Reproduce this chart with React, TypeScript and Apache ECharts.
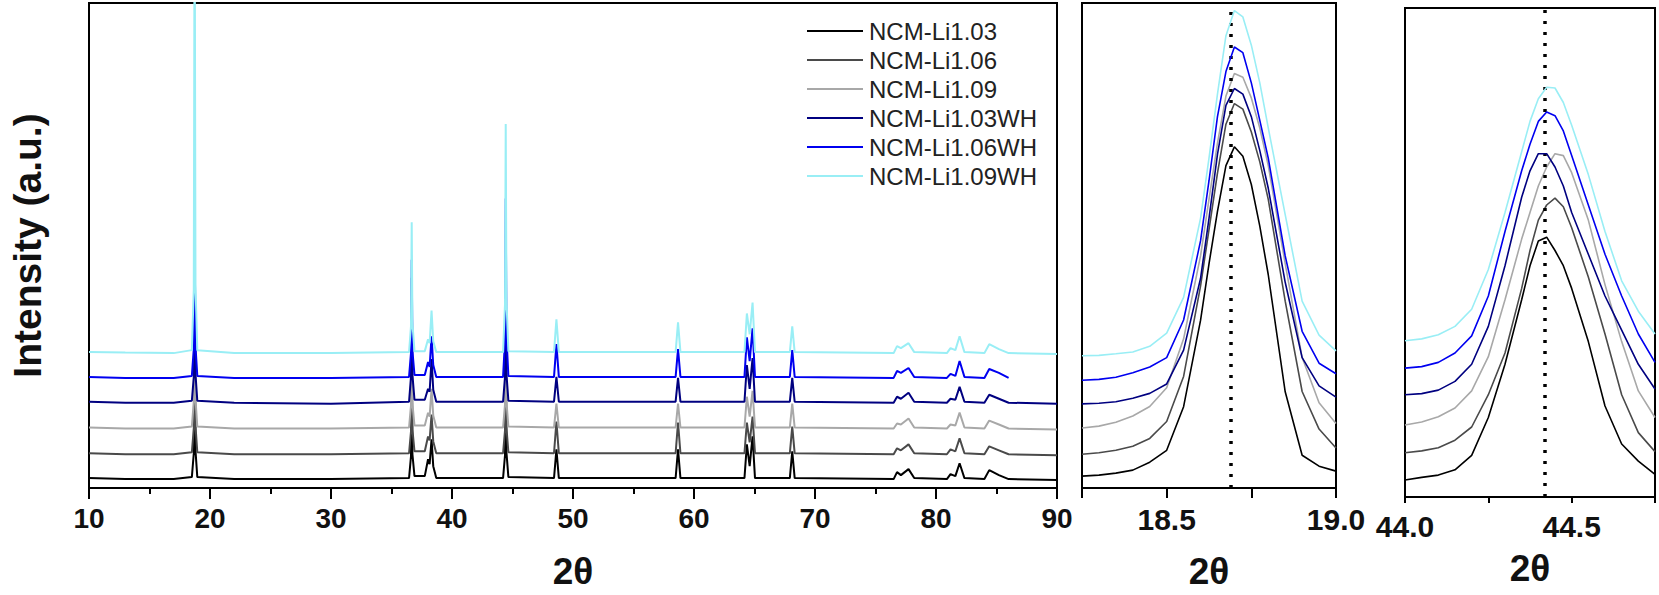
import React, { useEffect, useRef } from "react";
import * as echarts from "echarts";

// ---------- data ----------
const seriesNames = [
  "NCM-Li1.03",
  "NCM-Li1.06",
  "NCM-Li1.09",
  "NCM-Li1.03WH",
  "NCM-Li1.06WH",
  "NCM-Li1.09WH",
];
const seriesColors = ["#000000", "#4a4a4a", "#a8a8a8", "#000080", "#0000f0", "#99eef5"];

// Main panel: full pattern (offset-stacked, a.u.)
const mainTwoTheta = [
  10, 13, 17, 18.5, 18.66, 18.73, 18.8, 18.95, 22, 30,
  36.45, 36.61, 36.67, 36.73, 36.9, 37.75, 38.02, 38.15, 38.31, 38.45,
  38.7, 44.22, 44.38, 44.44, 44.5, 44.66, 48.43, 48.63, 48.83, 58.48,
  58.68, 58.88, 64.17, 64.37, 64.6, 64.84, 65.04, 67.92, 68.12, 68.32,
  76.5, 76.78, 77.1, 77.73, 78.2, 80.9, 81.2, 81.6, 81.95, 82.35,
  84.0, 84.4, 85.2, 86.0, 90,
];
const mainLi103 = [
  10, 9, 9, 11, 35, 139, 38, 11, 9, 9,
  10, 32, 124, 34, 12, 12, 29, 24, 49, 22,
  10, 10, 33, 129, 36, 11, 10, 39, 10, 10,
  39, 10, 10, 44, 22, 52, 10, 10, 37, 10,
  9, 16, 13, 19, 10, 9, 14, 12, 25, 10,
  9, 18, 13, 9, 8,
];
const mainLi106 = [
  35, 34, 34, 36, 60, 164, 63, 36, 34, 34,
  35, 57, 149, 59, 37, 37, 52, 48, 74, 47,
  35, 35, 58, 154, 61, 36, 35, 67, 35, 35,
  66, 35, 35, 66, 46, 72, 35, 35, 62, 35,
  34, 40, 38, 44, 35, 34, 39, 37, 50, 35,
  34, 42, 38, 34, 33,
];
const mainLi109 = [
  61, 60, 60, 62, 87, 195, 90, 62, 60, 60,
  61, 83, 175, 85, 63, 63, 76, 72, 100, 73,
  61, 61, 84, 180, 87, 62, 61, 85, 61, 61,
  85, 61, 61, 92, 72, 98, 61, 61, 85, 61,
  60, 65, 64, 70, 61, 60, 64, 63, 76, 61,
  60, 68, 64, 60, 59,
];
const mainLi103WH = [
  87, 86, 86, 88, 112, 211, 115, 88, 86, 85,
  87, 112, 212, 114, 89, 89, 100, 97, 130, 99,
  87, 87, 112, 209, 115, 88, 87, 112, 87, 87,
  111, 87, 87, 124, 100, 131, 87, 87, 111, 87,
  86, 92, 90, 96, 87, 86, 90, 89, 102, 87,
  86, 94, 90, 86, 85,
];
const mainLi106WH = [
  112, 111, 111, 113, 140, 256, 143, 113, 111, 111,
  112, 136, 230, 138, 114, 114, 127, 122, 153, 124,
  112, 112, 149, 292, 153, 113, 112, 145, 112, 112,
  140, 112, 112, 152, 128, 161, 112, 112, 139, 112,
  111, 118, 116, 121, 112, 111, 115, 113, 128, 112,
  111, 120, 116, 111, null,
];
const mainLi109WH = [
  137, 136.5, 136, 139, 200, 620, 205, 139, 136, 136,
  137, 163, 268, 166, 138, 138, 150, 146, 179, 148,
  137, 137, 185, 367, 190, 138, 137, 170, 137, 137,
  167, 137, 137, 176, 155, 187, 137, 137, 163, 137,
  136, 143, 141, 146, 137, 136, 141, 139, 153, 137,
  136, 145, 140, 136, 135,
];

// Inset 1: (003) peak
const inset003TwoTheta = [
  18.25, 18.3, 18.35, 18.4, 18.45, 18.5, 18.55, 18.6, 18.625, 18.65,
  18.675, 18.7, 18.725, 18.75, 18.775, 18.8, 18.85, 18.9, 18.95, 19.0,
];
const inset003Li103 = [12, 13, 15, 18, 26, 38, 82, 169, 226, 279, 325, 344, 334.5, 306, 264, 215, 97, 33, 22, 17];
const inset003Li106 = [34, 35.5, 38, 42, 50, 67, 112.5, 203.6, 260.5, 317.4, 366.8, 387.6, 382, 359, 328.8, 291, 188.4, 97.3, 59.4, 40.4];
const inset003Li109 = [60.5, 62.4, 66.2, 72.6, 82.1, 101, 150.4, 234, 290.9, 347.8, 395.2, 418, 414.2, 393.3, 363, 325, 226.3, 131.5, 85.9, 65];
const inset003Li103WH = [84.8, 85.5, 87, 90.5, 95.4, 104.9, 139, 211.2, 271.9, 336.4, 385.7, 402.8, 397.1, 374.4, 340.2, 302.2, 207.4, 131.5, 103, 91.6];
const inset003Li106WH = [108.7, 109.5, 111.7, 116.3, 122, 131.5, 169.4, 249.1, 309.8, 374.4, 419.9, 444.6, 438.9, 408.5, 370.6, 332.6, 234, 158, 125.8, 115.2];
const inset003Li109WH = [133.4, 133.7, 135.3, 137.2, 142.9, 156.1, 192.2, 271.9, 332.6, 397.1, 456, 481.4, 474.9, 446.5, 408.5, 363, 275.7, 188.4, 154.2, 138.3];
const inset003Reference = 18.69;
const inset003Labels = ["18.5", "19.0"];

// Inset 2: (104) peak
const inset104TwoTheta = [
  44.0, 44.05, 44.1, 44.15, 44.2, 44.25, 44.3, 44.35, 44.375, 44.4,
  44.425, 44.45, 44.475, 44.5, 44.55, 44.6, 44.65, 44.7, 44.75,
];
const inset104Li103 = [17, 19.6, 21.9, 27.2, 41.6, 79.5, 132.7, 197.2, 231.3, 256, 259.8, 246.5, 231.3, 208.6, 155.4, 91, 53, 35.9, 22.6];
const inset104Li106 = [44.2, 46.1, 49.2, 56.8, 70, 102.3, 144, 208.6, 246.5, 276.9, 292, 298.9, 290.2, 269.3, 220, 163, 102.3, 64.4, 45.4];
const inset104Li109 = [72, 75, 80.3, 89, 106.1, 140.3, 197.2, 257.9, 284.5, 311, 330, 343.3, 341.4, 324.3, 276.9, 212.4, 155.4, 106.1, 79.5];
const inset104Li103WH = [102.3, 103.4, 106.9, 115.6, 132.7, 170.6, 231.3, 299.7, 326.2, 343.3, 343.3, 330, 311, 284.5, 242.7, 201, 166.8, 132.7, 108];
const inset104Li106WH = [128.9, 130.4, 134.6, 144, 161.1, 201, 265.5, 326.2, 352.8, 375.6, 385, 381.3, 366.1, 341.4, 292, 242.7, 201, 163, 134.6];
const inset104Li109WH = [156.2, 158.1, 162.3, 170.6, 187.7, 227.5, 284.5, 345.2, 375.6, 398.3, 409.7, 409, 394.5, 371.8, 322.4, 265.5, 216.2, 185.8, 163];
const inset104Reference = 44.42;
const inset104Labels = ["44.0", "44.5"];

const yTitle = "Intensity (a.u.)";
const xTitle = "2θ";

// ---------- chart ----------
const FONT = "'Liberation Sans', Arial, Helvetica, sans-serif";

function pairs(xs: number[], ys: (number | null)[]) {
  const out: number[][] = [];
  xs.forEach((x, i) => {
    const y = ys[i];
    if (y !== null && y !== undefined) out.push([x, y]);
  });
  return out;
}

function buildOption() {
  const panels = [
    {
      x: mainTwoTheta,
      ys: [mainLi103, mainLi106, mainLi109, mainLi103WH, mainLi106WH, mainLi109WH],
      width: 2,
      mark: null as number | null,
    },
    {
      x: inset003TwoTheta,
      ys: [inset003Li103, inset003Li106, inset003Li109, inset003Li103WH, inset003Li106WH, inset003Li109WH],
      width: 1.6,
      mark: inset003Reference,
    },
    {
      x: inset104TwoTheta,
      ys: [inset104Li103, inset104Li106, inset104Li109, inset104Li103WH, inset104Li106WH, inset104Li109WH],
      width: 1.6,
      mark: inset104Reference,
    },
  ];

  const series: any[] = [];
  panels.forEach((p, gi) => {
    p.ys.forEach((ys, si) => {
      const s: any = {
        type: "line",
        name: seriesNames[si],
        xAxisIndex: gi,
        yAxisIndex: gi,
        data: pairs(p.x, ys),
        showSymbol: false,
        symbol: "none",
        clip: true,
        silent: true,
        z: 2 + si,
        lineStyle: { color: seriesColors[si], width: p.width },
        itemStyle: { color: seriesColors[si] },
      };
      if (p.mark !== null && si === seriesNames.length - 1) {
        s.markLine = {
          silent: true,
          symbol: ["none", "none"],
          label: { show: false },
          lineStyle: { color: "#000", width: 3.5, type: [3, 8], cap: "butt" },
          data: [{ xAxis: p.mark }],
        };
      }
      series.push(s);
    });
  });

  const axisLine = { show: true, onZero: false, lineStyle: { color: "#000", width: 2 } };
  const nameStyle = { fontSize: 37, fontWeight: "bold", color: "#111", fontFamily: FONT };

  const insetFormatter = (labels: string[]) => (v: number) => {
    const s = v.toFixed(1);
    return labels.includes(s) && Math.abs(v - parseFloat(s)) < 1e-6 ? s : "";
  };

  return {
    animation: false,
    backgroundColor: "#fff",
    textStyle: { fontFamily: FONT },
    legend: {
      data: seriesNames,
      orient: "vertical",
      left: 807,
      top: 19,
      padding: 0,
      icon: "rect",
      itemWidth: 56,
      itemHeight: 2,
      itemGap: 5,
      selectedMode: false,
      textStyle: { fontSize: 24, lineHeight: 24, color: "#222", fontFamily: FONT, padding: [0, 0, 0, 1] },
    },
    grid: [
      { left: 83, top: 3, width: 974, height: 489, show: true, borderColor: "#000", borderWidth: 2 },
      { left: 1082, top: 3, width: 254, height: 489, show: true, borderColor: "#000", borderWidth: 2 },
      { left: 1405, top: 8, width: 250, height: 489, show: true, borderColor: "#000", borderWidth: 2 },
    ],
    xAxis: [
      {
        type: "value",
        gridIndex: 0,
        min: 10,
        max: 90,
        interval: 10,
        axisLine,
        axisTick: { show: true, inside: false, length: 11, lineStyle: { color: "#000", width: 2 } },
        minorTick: { show: true, splitNumber: 2, length: 6, lineStyle: { color: "#000", width: 2 } },
        splitLine: { show: false },
        axisLabel: { fontSize: 28, fontWeight: "bold", color: "#111", margin: 16, fontFamily: FONT },
        name: xTitle,
        nameLocation: "middle",
        nameGap: 65,
        nameTextStyle: nameStyle,
      },
      {
        type: "value",
        gridIndex: 1,
        min: 18.25,
        max: 19.0,
        interval: 0.25,
        axisLine,
        axisTick: { show: true, inside: false, length: 10, lineStyle: { color: "#000", width: 2 } },
        splitLine: { show: false },
        axisLabel: {
          fontSize: 30,
          fontWeight: "bold",
          color: "#111",
          margin: 16,
          fontFamily: FONT,
          showMinLabel: true,
          showMaxLabel: true,
          formatter: insetFormatter(inset003Labels),
        },
        name: xTitle,
        nameLocation: "middle",
        nameGap: 65,
        nameTextStyle: nameStyle,
      },
      {
        type: "value",
        gridIndex: 2,
        min: 44.0,
        max: 44.75,
        interval: 0.25,
        axisLine,
        axisTick: { show: true, inside: false, length: 6, lineStyle: { color: "#000", width: 2 } },
        splitLine: { show: false },
        axisLabel: {
          fontSize: 30,
          fontWeight: "bold",
          color: "#111",
          margin: 14,
          fontFamily: FONT,
          showMinLabel: true,
          showMaxLabel: true,
          formatter: insetFormatter(inset104Labels),
        },
        name: xTitle,
        nameLocation: "middle",
        nameGap: 53,
        nameTextStyle: nameStyle,
      },
    ],
    yAxis: [0, 1, 2].map((gi) => ({
      type: "value",
      gridIndex: gi,
      min: 0,
      max: 489,
      axisLine,
      axisTick: { show: false },
      axisLabel: { show: false },
      splitLine: { show: false },
      ...(gi === 0
        ? {
            name: yTitle,
            nameLocation: "middle",
            nameGap: 42,
            nameTextStyle: { fontSize: 39, fontWeight: "bold", color: "#111", fontFamily: FONT },
          }
        : {}),
    })),
    series,
  };
}

export default function App() {
  const ref = useRef<HTMLDivElement>(null);
  useEffect(() => {
    if (!ref.current) return;
    const chart = echarts.init(ref.current, undefined, { renderer: "svg" });
    chart.setOption(buildOption() as any);
    return () => chart.dispose();
  }, []);
  return (
    <div
      ref={ref}
      style={{ position: "fixed", left: 0, top: 0, width: 1659, height: 595, background: "#fff" }}
    />
  );
}
